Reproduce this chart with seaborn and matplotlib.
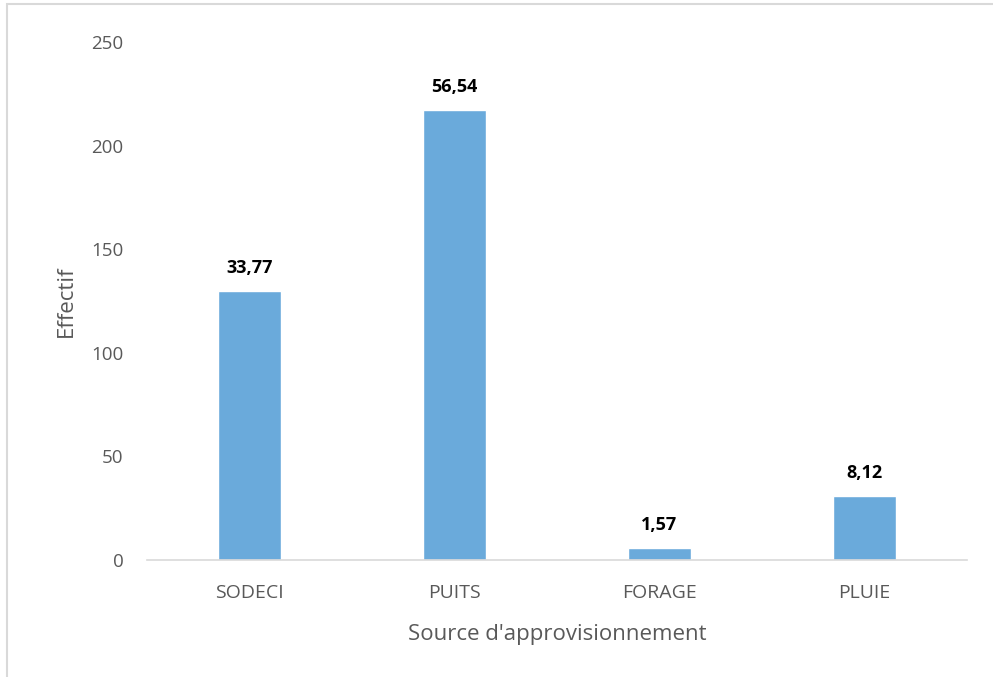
import matplotlib
matplotlib.use("Agg")
import matplotlib.pyplot as plt
import seaborn as sns
import pandas as pd
from matplotlib.patches import Rectangle

# Données
sources = ["SODECI", "PUITS", "FORAGE", "PLUIE"]
effectifs = [130, 217, 6, 31]
pourcentages = ["33,77", "56,54", "1,57", "8,12"]

sns.set_theme(style="white")
plt.rcParams['font.family'] = ['Open Sans', 'DejaVu Sans']

df = pd.DataFrame({"Source": sources, "Effectif": effectifs})

fig = plt.figure(figsize=(9.93, 6.77), dpi=100)
ax = fig.add_axes([147 / 993, 117 / 677, 820 / 993, 518 / 677])

sns.barplot(data=df, x="Source", y="Effectif", color="#6aaadb",
            width=0.31, saturation=1, ax=ax)

ax.set_ylim(0, 250)
ax.set_yticks(range(0, 251, 50))
ax.set_xlim(-0.5, 3.5)

grey = "#595959"
ax.tick_params(axis="y", length=0, pad=17, labelsize=13.5, labelcolor=grey)
ax.tick_params(axis="x", length=0, pad=17, labelsize=14, labelcolor=grey)

for side in ["top", "right", "left"]:
    ax.spines[side].set_visible(False)
ax.spines["bottom"].set_color("#d9d9d9")
ax.spines["bottom"].set_linewidth(1.2)

ax.set_xlabel("Source d'approvisionnement", fontsize=16, color=grey, labelpad=16)
ax.set_ylabel("Effectif", fontsize=16, color=grey, labelpad=10)

for i, (v, lab) in enumerate(zip(effectifs, pourcentages)):
    ax.annotate(lab, (i, v), xytext=(0, 10), textcoords="offset points",
                ha="center", va="bottom", fontsize=13, fontweight="bold",
                color="black")

# cadre gris autour du graphique
fig.patches.append(Rectangle((7 / 993, -0.01), 1.0, (677 - 4) / 677 + 0.01,
                             transform=fig.transFigure, fill=False,
                             edgecolor="#d9d9d9", linewidth=1.5))

fig.savefig("out.png", dpi=100)
